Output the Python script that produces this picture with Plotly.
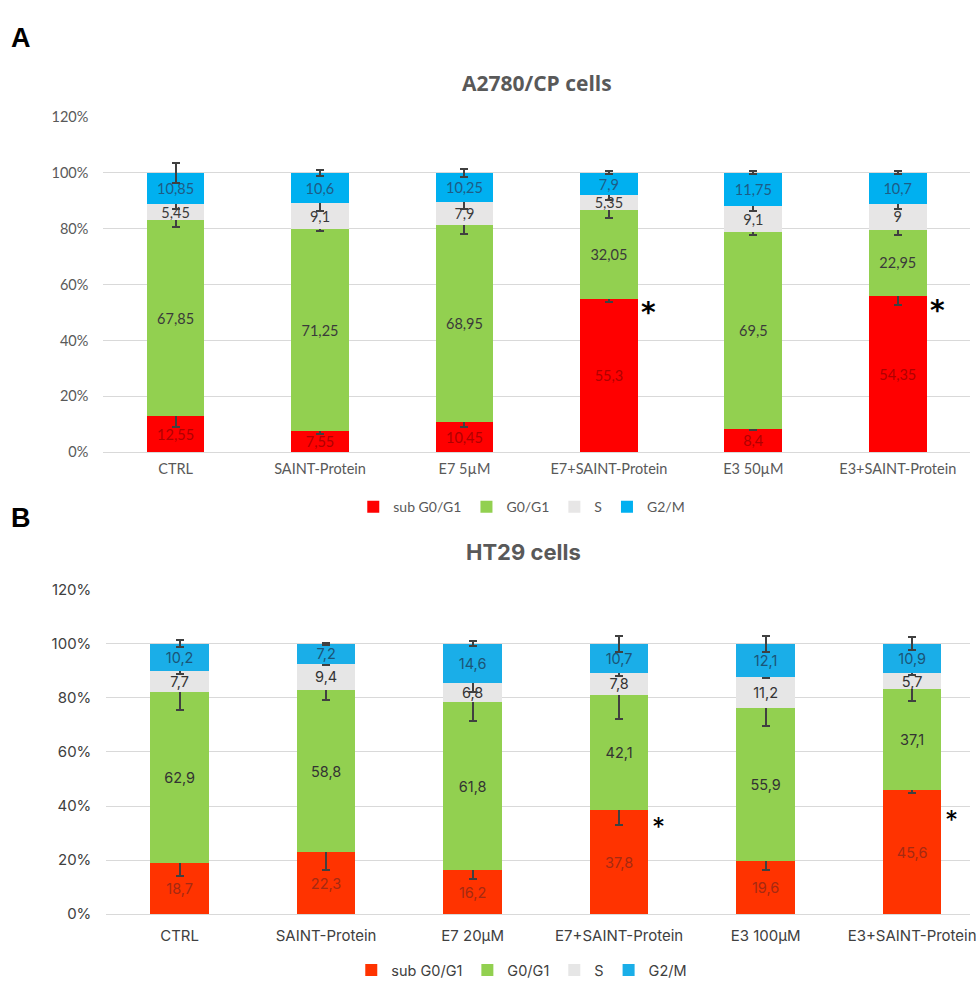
import plotly.graph_objects as go

# ---------------- data ----------------
phases = ["sub G0/G1", "G0/G1", "S", "G2/M"]

cats_a = ["CTRL", "SAINT-Protein", "E7 5µM", "E7+SAINT-Protein", "E3 50µM", "E3+SAINT-Protein"]
subg1_a = [12.55, 7.55, 10.45, 55.3, 8.4, 54.35]
g0g1_a = [67.85, 71.25, 68.95, 32.05, 69.5, 22.95]
s_a = [5.45, 9.1, 7.9, 5.35, 9.1, 9.0]
g2m_a = [10.85, 10.6, 10.25, 7.9, 11.75, 10.7]
err_subg1_a = [3.8, 1.0, 1.8, 1.2, 0.6, 3.5]
err_g0g1_a = [2.4, 1.0, 3.2, 3.0, 1.3, 2.0]
err_s_a = [1.7, 2.8, 2.5, 2.0, 1.7, 2.0]
err_g2m_a = [3.5, 1.0, 1.5, 0.5, 0.5, 0.5]

cats_b = ["CTRL", "SAINT-Protein", "E7 20µM", "E7+SAINT-Protein", "E3 100µM", "E3+SAINT-Protein"]
subg1_b = [18.7, 22.3, 16.2, 37.8, 19.6, 45.6]
g0g1_b = [62.9, 58.8, 61.8, 42.1, 55.9, 37.1]
s_b = [7.7, 9.4, 6.8, 7.8, 11.2, 5.7]
g2m_b = [10.2, 7.2, 14.6, 10.7, 12.1, 10.9]
err_subg1_b = [4.5, 6.5, 3.4, 5.3, 3.5, 1.2]
err_g0g1_b = [6.5, 3.7, 7.0, 9.0, 6.7, 4.5]
err_s_b = [1.0, 0.5, 3.0, 1.0, 0.5, 0.5]
err_g2m_b = [1.2, 0.4, 1.0, 3.0, 3.0, 2.5]

star_idx = [3, 5]
star_y_a = [52, 53]
star_y_b = [35, 37.5]

# ---------------- styles ----------------
colors_a = ["#FF0000", "#92D050", "#E7E6E6", "#00B0F0"]
colors_b = ["#FF3300", "#92D050", "#E6E6E6", "#1AAEE8"]
txt_a = ["#B00000", "#3A3A3A", "#3A3A3A", "#1E5C86"]
txt_b = ["#A52A12", "#333333", "#333333", "#1B5577"]
FONT_A = "Lato"
FONT_B = "Inter"


def fmt(v):
    return f"{v:g}".replace(".", ",")


def normalize(series):
    totals = [sum(t) for t in zip(*series)]
    return [[v / t * 100 for v, t in zip(s, totals)] for s in series]


fig = go.Figure()


def add_panel(cats, series, errs, colors, tcolors, xa, ya, legend, font, tsize):
    pct = normalize(series)
    for name, raw, p, e, c, tc in zip(phases, series, pct, errs, colors, tcolors):
        fig.add_trace(go.Bar(
            x=cats, y=p, name=name, xaxis=xa, yaxis=ya, legend=legend,
            marker=dict(color=c, line=dict(width=0)),
            text=[fmt(v) for v in raw], textposition="inside",
            insidetextanchor="middle", textangle=0,
            textfont=dict(color=tc, size=tsize, family=font),
            error_y=dict(type="data", array=e, color="#404040", thickness=2, width=4),
            hoverinfo="skip",
        ))


add_panel(cats_a, [subg1_a, g0g1_a, s_a, g2m_a],
          [err_subg1_a, err_g0g1_a, err_s_a, err_g2m_a],
          colors_a, txt_a, "x", "y", "legend", FONT_A, 15)
add_panel(cats_b, [subg1_b, g0g1_b, s_b, g2m_b],
          [err_subg1_b, err_g0g1_b, err_s_b, err_g2m_b],
          colors_b, txt_b, "x2", "y2", "legend2", FONT_B, 14.5)

W, H = 976, 986
ya_dom = [1 - 451 / H, 1 - 109 / H]
yb_dom = [1 - 922 / H, 1 - 591 / H]

annotations = []
for i, yv in zip(star_idx, star_y_a):
    annotations.append(dict(x=cats_a[i], y=yv, xref="x", yref="y", text="<b>*</b>", showarrow=False,
                            xshift=40, yshift=-6, font=dict(size=28, color="#000000", family="DejaVu Sans")))
for i, yv in zip(star_idx, star_y_b):
    annotations.append(dict(x=cats_b[i], y=yv, xref="x2", yref="y2", text="*", showarrow=False,
                            xshift=39, yshift=-7, font=dict(size=26, color="#000000", family=FONT_B)))

annotations += [
    dict(x=9 / W, y=1 - 29 / H, xref="paper", yref="paper", text="<b>A</b>", showarrow=False,
         xanchor="left", yanchor="middle", font=dict(size=27, color="#000000", family="Liberation Sans")),
    dict(x=9 / W, y=1 - 518 / H, xref="paper", yref="paper", text="<b>B</b>", showarrow=False,
         xanchor="left", yanchor="middle", font=dict(size=27, color="#000000", family="Liberation Sans")),
    dict(x=540 / W, y=1 - 74 / H, xref="paper", yref="paper", text="<b>A2780/CP cells</b>",
         showarrow=False, xanchor="center", yanchor="middle",
         font=dict(size=21, color="#595959", family="Open Sans")),
    dict(x=527 / W, y=1 - 553 / H, xref="paper", yref="paper", text="<b>HT29 cells</b>",
         showarrow=False, xanchor="center", yanchor="middle",
         font=dict(size=22, color="#595959", family=FONT_B)),
]

fig.update_layout(
    width=W, height=H, margin=dict(l=0, r=0, t=0, b=0),
    paper_bgcolor="white", plot_bgcolor="white",
    barmode="stack", bargap=0.6,
    uniformtext=dict(mode="show", minsize=14.5),
    xaxis=dict(domain=[104 / W, 1], anchor="y", range=[-0.5, 5.5], showgrid=False,
               showline=False, ticks="", ticklabelstandoff=6,
               tickfont=dict(size=14.5, color="#595959", family=FONT_A)),
    yaxis=dict(domain=ya_dom, anchor="x", range=[0, 120], dtick=20, ticksuffix="%",
               showgrid=True, gridcolor="#D9D9D9", gridwidth=1, zeroline=True,
               zerolinecolor="#D9D9D9", zerolinewidth=1, showline=False, ticks="",
               ticklabelstandoff=14, tickfont=dict(size=14.5, color="#595959", family=FONT_A)),
    xaxis2=dict(domain=[107 / W, 1], anchor="y2", range=[-0.5, 5.395], showgrid=False,
                showline=False, ticks="", ticklabelstandoff=11,
                tickfont=dict(size=15, color="#404040", family=FONT_B)),
    yaxis2=dict(domain=yb_dom, anchor="x2", range=[0, 120], dtick=20, ticksuffix="%",
                showgrid=True, gridcolor="#D9D9D9", gridwidth=1, zeroline=True,
                zerolinecolor="#D9D9D9", zerolinewidth=1, showline=False, ticks="",
                ticklabelstandoff=14, tickfont=dict(size=15, color="#404040", family=FONT_B)),
    legend=dict(orientation="h", x=525 / W, y=1 - 507 / H, xanchor="center", yanchor="middle",
                font=dict(size=14, color="#595959", family=FONT_A), traceorder="normal",
                itemwidth=30, bgcolor="rgba(0,0,0,0)"),
    legend2=dict(orientation="h", x=525 / W, y=1 - 979 / H, xanchor="center", yanchor="middle",
                 font=dict(size=14.5, color="#404040", family=FONT_B), traceorder="normal",
                 itemwidth=30, bgcolor="rgba(0,0,0,0)"),
    annotations=annotations,
    showlegend=True,
)

fig.write_html(
    "out.html",
    config={"displayModeBar": False},
    post_script="document.body.style.margin='0';document.body.style.overflow='hidden';",
)
